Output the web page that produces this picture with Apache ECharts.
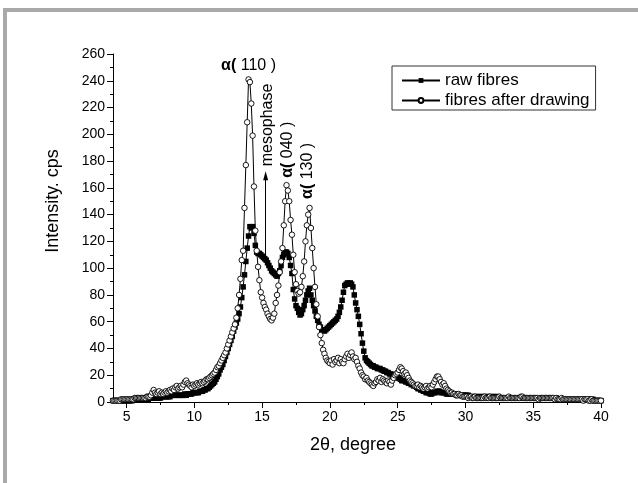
<!DOCTYPE html>
<html>
<head>
<meta charset="utf-8">
<script src="https://cdn.jsdelivr.net/npm/echarts@6/dist/echarts.min.js"></script>
<style>
html,body{margin:0;padding:0;background:#fff;}
#chart{width:638px;height:483px;}
</style>
</head>
<body>
<div id="chart"></div>
<script>
// Scan grid: 2θ from 4.0 to 40.0 degrees, step 0.1
const scanStart = 4.0;
const scanStep = 0.1;

// raw fibres (filled squares), one row per degree (10 points each)
const rawFibres = [
  1,1,1,1,1,1,1,1,1,1,
  1,1,1,1,1,2,2,2,2,2,
  2,2,2,2,2,2,2,3,3,3,
  3,3,3,3,3,3,4,4,4,4,
  4,4,4,5,5,5,5,5,5,5,
  5,5,5,6,5,6,6,6,6,7,
  7,7,7,7,8,8,8,9,9,10,
  10,11,12,13,14,15,17,19,21,24,
  26,28,31,34,37,40,43,46,49,53,
  56,59,62,66,71,78,86,95,105,115,
  124,131,130,131,126,117,112,111,111,110,
  109,108,107,106,104,102,100,98,97,96,
  95,94,96,98,102,108,110,112,112,111,
  108,102,96,84,77,72,70,67,65,66,
  69,72,76,80,83,85,80,76,72,68,
  64,61,58,56,54,54,53,54,55,56,
  57,58,59,60,61,62,64,67,71,76,
  82,87,88,89,88,89,88,86,80,74,
  69,64,58,51,44,38,33,31,30,29,
  28,27,27,26,26,25,25,25,24,24,
  23,23,22,22,21,21,20,20,19,19,
  18,18,17,16,16,16,15,15,14,14,
  13,13,12,12,11,10,10,9,9,8,
  8,7,7,7,6,6,7,7,7,8,
  8,8,7,7,7,7,6,6,6,6,
  6,6,6,6,5,5,5,5,5,5,
  5,5,5,4,4,4,4,4,4,4,
  4,4,4,4,4,4,4,4,4,4,
  4,4,4,4,4,3,3,3,3,3,
  3,3,3,3,3,3,3,3,3,3,
  3,3,3,3,3,3,3,3,3,3,
  3,3,3,3,3,3,3,3,3,3,
  3,3,3,3,3,3,3,3,2,2,
  2,2,2,2,2,2,2,2,2,2,
  2,2,2,2,2,2,2,2,2,2,
  2,2,2,2,2,1,1,1,1,1,
  1
];

// fibres after drawing (open circles)
const drawnFibres = [
  1,1,1,1,1,1,2,2,2,2,
  2,2,2,2,2,2,3,3,3,3,
  3,3,3,3,3,4,4,4,5,7,
  9,7,6,7,8,6,7,6,7,8,
  7,8,9,8,10,9,11,12,10,11,
  12,11,13,15,16,14,13,12,11,13,
  12,13,14,13,14,15,14,15,16,17,
  17,18,19,20,21,22,24,26,27,29,
  31,33,35,37,40,43,46,49,52,55,
  58,63,70,80,92,106,113,145,177,209,
  241,239,223,199,161,128,113,101,91,82,
  78,74,71,69,66,64,62,61,63,66,
  74,80,87,97,105,115,132,150,162,158,
  150,136,125,110,97,88,83,81,82,86,
  94,105,120,132,140,145,130,115,100,86,
  73,64,56,50,44,39,36,33,31,30,
  29,31,28,32,30,31,33,29,32,30,
  29,32,34,36,33,35,37,34,32,33,
  30,27,25,22,20,19,17,18,16,15,
  14,13,12,14,15,17,16,18,15,17,
  16,15,14,16,15,13,16,18,20,21,
  22,24,26,25,23,21,22,20,18,16,
  15,14,13,12,12,13,11,12,11,10,
  11,12,10,11,12,11,13,15,17,19,
  19,17,15,13,14,12,10,9,8,7,
  7,6,6,5,5,6,5,5,4,4,
  4,4,3,4,4,3,3,4,3,3,
  3,3,3,3,4,3,3,3,4,3,
  3,3,3,3,3,4,3,3,3,3,
  3,3,4,3,3,3,3,3,3,3,
  3,4,4,3,3,3,3,3,3,3,
  3,3,3,3,2,3,3,3,3,3,
  3,3,3,3,3,3,2,3,2,2,
  2,3,2,2,2,2,2,2,2,2,
  2,2,2,2,2,2,2,1,2,2,
  2,1,1,2,1,1,1,1,1,1,
  1
];

const xMajorTicks = [5,10,15,20,25,30,35,40];
const xMinorTicks = [7.5,12.5,17.5,22.5,27.5,32.5,37.5];
const seriesNames = ['raw fibres','fibres after drawing'];

// annotations: [text, x, y, rotate]
const peakLabels = [
  ['{b|α(} 110 )', 14.0, 251.3, 0],
  ['mesophase', 15.41, 207, 90],
  ['{b|α(} 040 )', 16.89, 188.4, 90],
  ['{b|α(} 130 )', 18.36, 172.7, 90]
];
const mesophaseArrow = [[15.26, 106], [15.26, 169]];

function toPairs(arr){
  return arr.map((v,i)=>[+(scanStart + i*scanStep).toFixed(1), v]);
}

const FONT = 'Liberation Sans, Arial, sans-serif';
const chart = echarts.init(document.getElementById('chart'), null, {renderer:'canvas'});

chart.setOption({
  animation:false,
  backgroundColor:'#fff',
  grid:{left:113, right:37, top:54, bottom:81, containLabel:false},
  legend:{
    orient:'vertical', left:392, top:66,
    itemWidth:38, itemHeight:6, itemGap:3,
    padding:[6,6,1,9],
    borderColor:'#333', borderWidth:1, backgroundColor:'#fff',
    textStyle:{fontSize:17, fontFamily:FONT, color:'#000'},
    data:seriesNames
  },
  xAxis:[{
    type:'value', min:4, max:40,
    axisLine:{show:true, onZero:false, lineStyle:{color:'#000', width:1}},
    axisTick:{show:true, inside:false, length:6, customValues:xMajorTicks, lineStyle:{color:'#000'}},
    axisLabel:{show:true, margin:8, fontSize:14, fontFamily:FONT, color:'#000', customValues:xMajorTicks},
    splitLine:{show:false}
  },{
    type:'value', min:4, max:40, position:'bottom', gridIndex:0,
    axisLine:{show:false},
    axisTick:{show:true, inside:false, length:3, customValues:xMinorTicks, lineStyle:{color:'#000'}},
    axisLabel:{show:false},
    splitLine:{show:false}
  }],
  yAxis:{
    type:'value', min:0, max:260, interval:20,
    axisLine:{show:true, lineStyle:{color:'#000', width:1}},
    axisTick:{show:true, inside:false, length:6, lineStyle:{color:'#000'}},
    minorTick:{show:true, splitNumber:2, length:3, lineStyle:{color:'#000'}},
    axisLabel:{margin:8, fontSize:14, fontFamily:FONT, color:'#000'},
    splitLine:{show:false}
  },
  graphic:[
    {type:'rect', shape:{x:3, y:8, width:635, height:4}, style:{fill:'#a9a9a9'}, silent:true},
    {type:'rect', shape:{x:3, y:8, width:4, height:475}, style:{fill:'#a9a9a9'}, silent:true},
    {type:'text', x:53, y:201, rotation:Math.PI/2,
      style:{text:'Intensity. cps', fontSize:18, fontFamily:FONT, fill:'#000', align:'center', verticalAlign:'middle'}},
    {type:'text', x:353, y:445,
      style:{text:'2θ, degree', fontSize:18, fontFamily:FONT, fill:'#000', align:'center', verticalAlign:'middle'}}
  ],
  series:[{
    name:seriesNames[0], type:'line', data:toPairs(rawFibres),
    symbol:'rect', symbolSize:5.5, showSymbol:true,
    itemStyle:{color:'#000', borderColor:'#000', borderWidth:0},
    lineStyle:{color:'#000', width:1},
    markLine:{
      silent:true, symbol:['none','triangle'], symbolSize:[5,9],
      lineStyle:{color:'#000', width:1, type:'solid'},
      itemStyle:{color:'#000'},
      label:{show:false},
      data:[[{coord:mesophaseArrow[0]},{coord:mesophaseArrow[1]}]]
    },
    markPoint:{
      silent:true, symbol:'circle', symbolSize:0,
      data:peakLabels.map(p=>({
        coord:[p[1],p[2]],
        label:{show:true, position:'inside', rotate:p[3], formatter:p[0],
          fontSize:16, fontFamily:FONT, color:'#000',
          rich:{b:{fontSize:16, fontWeight:'bold', fontFamily:FONT, color:'#000'}}}
      }))
    },
    z:2
  },{
    name:seriesNames[1], type:'line', data:toPairs(drawnFibres),
    symbol:'circle', symbolSize:5.5, showSymbol:true,
    itemStyle:{color:'#fff', borderColor:'#000', borderWidth:0.9},
    lineStyle:{color:'#000', width:1},
    z:3
  }]
});
</script>
</body>
</html>
